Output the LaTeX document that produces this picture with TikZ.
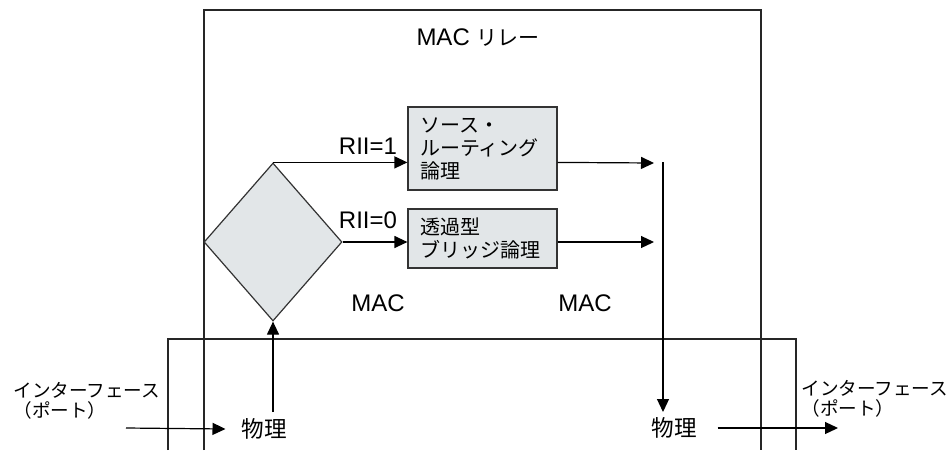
\documentclass[tikz,border=0pt]{standalone}
\usepackage{fontspec}
\setmainfont{Liberation Sans}
\newfontfamily\jp{Noto Sans CJK JP}
\usetikzlibrary{shapes.geometric, arrows.meta, calc}
\definecolor{boxgray}{RGB}{226,230,232}
\tikzset{
    flow/.style={-{Triangle[length=6.5pt, width=6pt]}, line width=.6pt},
    frame/.style={line width=.6pt, draw=black!85},
    logicbox/.style={draw=black!80, fill=boxgray, line width=.6pt,
        inner xsep=6pt, text width=62.5pt, align=left,
        font=\jp\fontsize{10}{11.5}\selectfont},
    choice/.style={diamond, draw=black!80, fill=boxgray, line width=.6pt,
        minimum width=69pt, minimum height=79pt, inner sep=0pt},
    lbl/.style={font=\fontsize{12}{14}\selectfont, inner sep=0pt},
    jlbl/.style={font=\jp\fontsize{11.3}{13}\selectfont, inner sep=0pt},
    port/.style={font=\jp\fontsize{9.3}{10}\selectfont, align=left,
        inner sep=0pt, anchor=west},
}

\begin{document}
\begin{tikzpicture}[x=.5pt, y=-.5pt]
    \useasboundingbox (0, 0) rectangle (952, 450);

    \draw[frame] (204, 450) |- (761, 10) -- (761, 450); % MAC relay, open below
    \draw[frame] (168, 450) |- (796, 339) -- (796, 450); % Port frame

    \node[lbl] (relay) at (478, 38) {MAC {\jp\fontsize{10.5}{12}\selectfont リレー}};

    \node[choice] (sel) at (273, 242) {};
    \node[logicbox, minimum height=41.5pt] (src) at (482.5, 148.5)
        {ソース・\\ルーティング\\論理};
    \node[logicbox, minimum height=29.5pt] (bridge) at (482.5, 238.5)
        {透過型\\ブリッジ論理};

    \node[lbl] (rone) at (368, 146) {RII=1};
    \node[lbl] (rzero) at (368, 220) {RII=0};
    \node[lbl] (macL) at (378, 303) {MAC};
    \node[lbl] (macR) at (585, 303) {MAC};

    \node[jlbl] (phyL) at (264.5, 429) {物理};
    \node[jlbl] (phyR) at (674.5, 428) {物理};
    \node[port] (portL) at (13, 401) {インターフェース\\（ポート）};
    \node[port] (portR) at (801, 399) {インターフェース\\（ポート）};

    \coordinate (inL) at (126, 428);
    \coordinate (upStart) at (273, 412);
    \coordinate (joinA) at (654, 163);
    \coordinate (joinB) at (654, 242);
    \coordinate (joinTop) at (663, 162);
    \coordinate (outR) at (838, 428);

    \draw[flow] (inL) -- ([xshift=-8pt]phyL.west); % Into the port
    \draw[flow] (upStart) -- (sel.south);
    \draw[flow] (sel.north) -- (sel.north -| src.west); % RII=1 branch
    \draw[flow] (sel.east) -- (sel.east -| bridge.west); % RII=0 branch
    \draw[flow] (sel.north -| src.east) -- (joinA);
    \draw[flow] (sel.east -| bridge.east) -- (joinB);
    \draw[flow] (joinTop) -- (joinTop |- 0, 412); % Down to the port
    \draw[flow] ([xshift=10pt]phyR.east) -- (outR);
\end{tikzpicture}
\end{document}
